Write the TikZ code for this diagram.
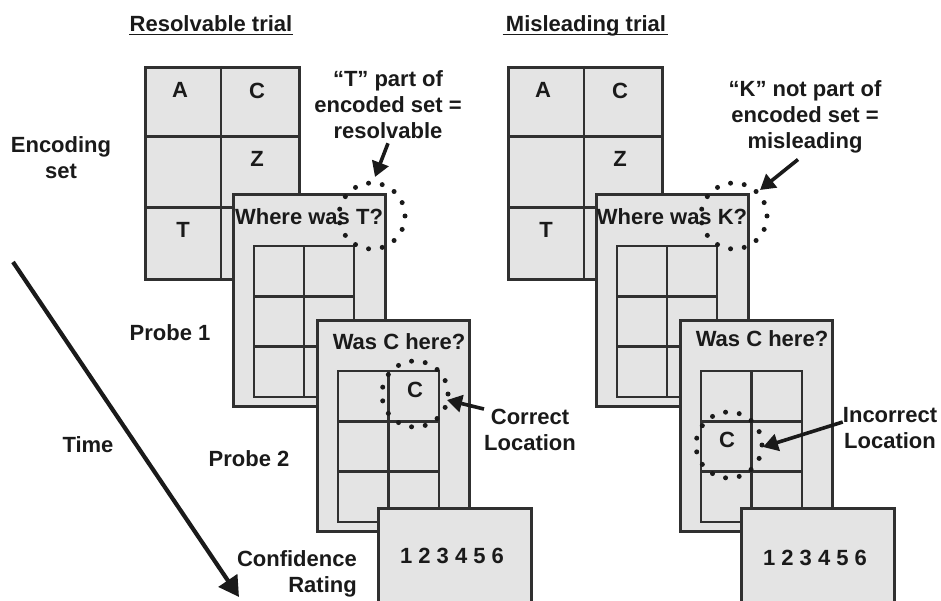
\documentclass[tikz,border=0pt]{standalone}
\usepackage{fontspec}
\setmainfont{Liberation Sans}
\usetikzlibrary{arrows.meta}
\definecolor{scrfill}{HTML}{E4E4E4}
\definecolor{edge}{HTML}{303030}
\definecolor{ink}{HTML}{1A1A1A}
\begin{document}
\begin{tikzpicture}[x=1pt,y=-1pt,
  screen/.style={draw=edge, fill=scrfill, line width=2.6pt, rectangle, inner sep=0pt, anchor=north west},
  gl/.style={draw=edge, line width=2.6pt},
  lbl/.style={inner sep=0pt, text=ink, font=\fontsize{22}{26}\selectfont\bfseries},
  blbl/.style={lbl, anchor=base},
  mlbl/.style={lbl, align=center},
  dots/.style={draw=ink, line width=5pt, dash pattern=on 0pt off 13.82pt, line cap=round},
  arr/.style={draw=ink, line width=3.6pt, -{Triangle[length=15pt,width=17pt]}},
  tarr/.style={draw=ink, line width=4.2pt, -{Triangle[length=20pt,width=22pt]}},
  uline/.style={draw=ink, line width=1.8pt}
]
\useasboundingbox (0,0) rectangle (941,601);
\clip (0,0) rectangle (941,601);

% ---------------- Left panel: resolvable ----------------
\node[blbl] (titleL) at (211,32) {Resolvable trial};
\draw[uline] ([yshift=-2.6pt]titleL.base west) -- ([yshift=-2.6pt]titleL.base east);

% encoding set
\node[screen, minimum width=154pt, minimum height=212pt] (encL) at (144,66) {};
\draw[gl] (221,66) -- (221,278);
\draw[gl] (144,136.7) -- (298,136.7);
\draw[gl] (144,207.3) -- (298,207.3);
\node[blbl] (eAL) at (180,98) {A};
\node[blbl] (eCL) at (257,99) {C};
\node[blbl] (eZL) at (257,167) {Z};
\node[blbl] (eTL) at (183,238) {T};

% probe 1
\node[screen, minimum width=152pt, minimum height=212pt] (p1L) at (232,193) {};
\draw[gl] (254,246) rectangle (354,397);
\draw[gl] (304,246) -- (304,397);
\draw[gl] (254,296.3) -- (354,296.3);
\draw[gl] (254,346.7) -- (354,346.7);
\node[blbl] (q1L) at (309,225) {Where was T?};

% probe 2
\node[screen, minimum width=152pt, minimum height=211pt] (p2L) at (316,319) {};
\draw[gl] (338,371) rectangle (439,522);
\draw[gl] (388.5,371) -- (388.5,522);
\draw[gl] (338,421.3) -- (439,421.3);
\draw[gl] (338,471.7) -- (439,471.7);
\node[blbl] (q2L) at (399,349) {Was C here?};
\node[blbl] (cL) at (415,397) {C};

% confidence
\node[screen, minimum width=153pt, minimum height=120pt] (confL) at (377,507) {};
\node[blbl] (numL) at (452,563) {1 2 3 4 5 6};

% dotted circles
\coordinate (circ1L) at (372,216);
\coordinate (circ2L) at (415,394);
\draw[dots] (circ1L) circle (33pt);
\draw[dots] (circ2L) circle (33pt);

% annotations
\node[mlbl] (annL) at (388,105) {“T” part of\\encoded set =\\resolvable};
\coordinate (tipAnnL) at (375,177);
\draw[arr] ([yshift=-4pt]annL.south) -- (tipAnnL);

\node[mlbl] (corrL) at (530,430) {Correct\\Location};
\coordinate (tipCorrL) at (447,400);
\draw[arr] (corrL.north west) -- (tipCorrL);

% side labels
\node[mlbl] (encLab) at (61,158) {Encoding\\set};
\node[blbl] (probe1Lab) at (170,340) {Probe 1};
\node[blbl] (probe2Lab) at (249,466) {Probe 2};
\node[blbl] (timeLab) at (88,452) {Time};
\node[lbl, align=right, anchor=east] (confLab) at (357,574) {Confidence\\Rating};
\coordinate (timeS) at (13,262);
\coordinate (timeE) at (239,597);
\draw[tarr] (timeS) -- (timeE);

% ---------------- Right panel: misleading ----------------
\node[blbl] (titleR) at (586,32) {Misleading trial};
\draw[uline] ([yshift=-2.6pt,xshift=-3pt]titleR.base west) -- ([yshift=-2.6pt,xshift=2pt]titleR.base east);

\node[screen, minimum width=154pt, minimum height=212pt] (encR) at (507,66) {};
\draw[gl] (584,66) -- (584,278);
\draw[gl] (507,136.7) -- (661,136.7);
\draw[gl] (507,207.3) -- (661,207.3);
\node[blbl] (eAR) at (543,98) {A};
\node[blbl] (eCR) at (620,99) {C};
\node[blbl] (eZR) at (620,167) {Z};
\node[blbl] (eTR) at (546,238) {T};

\node[screen, minimum width=152pt, minimum height=212pt] (p1R) at (595,193) {};
\draw[gl] (617,246) rectangle (717,397);
\draw[gl] (667,246) -- (667,397);
\draw[gl] (617,296.3) -- (717,296.3);
\draw[gl] (617,346.7) -- (717,346.7);
\node[blbl] (q1R) at (672,225) {Where was K?};

\node[screen, minimum width=152pt, minimum height=211pt] (p2R) at (679,319) {};
\draw[gl] (701,371) rectangle (802,522);
\draw[gl] (751.5,371) -- (751.5,522);
\draw[gl] (701,421.3) -- (802,421.3);
\draw[gl] (701,471.7) -- (802,471.7);
\node[blbl] (q2R) at (762,346) {Was C here?};
\node[blbl] (cR) at (727,447) {C};

\node[screen, minimum width=153pt, minimum height=120pt] (confR) at (740,507) {};
\node[blbl] (numR) at (815,565) {1 2 3 4 5 6};

\coordinate (circ1R) at (734,216);
\coordinate (circ2R) at (729,445);
\draw[dots] (circ1R) circle (33pt);
\draw[dots] (circ2R) circle (33pt);

\node[mlbl] (annR) at (805,117) {“K” not part of\\encoded set =\\misleading};
\coordinate (tipAnnR) at (760,190);
\draw[arr] ([xshift=-7pt,yshift=-6pt]annR.south) -- (tipAnnR);

\node[mlbl] (incR) at (890,428) {Incorrect\\Location};
\coordinate (tipIncR) at (763,447);
\draw[arr] ([yshift=6pt]incR.west) -- (tipIncR);
\end{tikzpicture}
\end{document}
